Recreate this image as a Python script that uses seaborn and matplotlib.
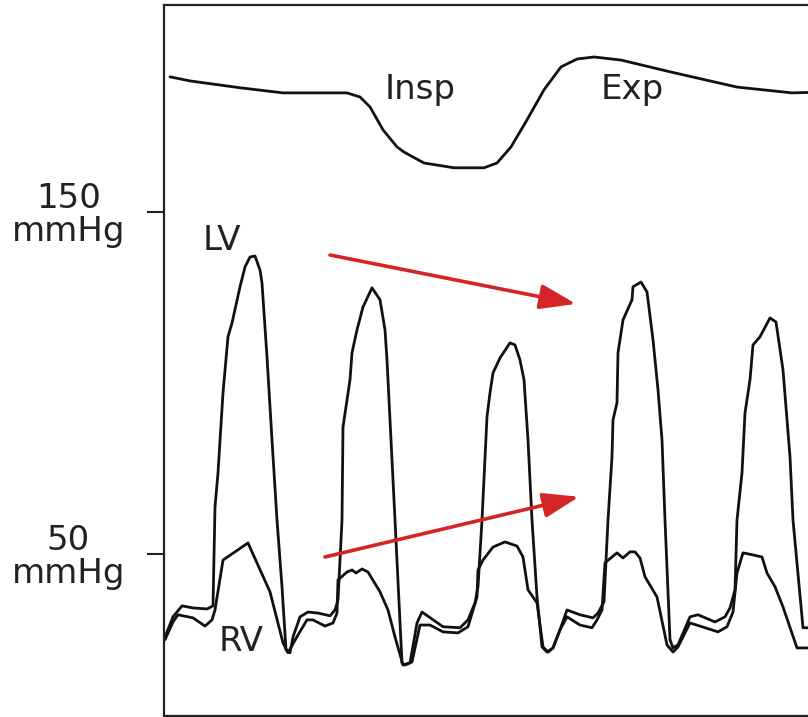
import pandas as pd
import seaborn as sns
import matplotlib.pyplot as plt

# ======| Values (time in ms, pressure in mmHg) |======

lv_t = [5, 45, 90, 145, 215, 245, 255, 270, 295, 320, 340, 380, 405, 430, 455, 480, 490,
        515, 540, 565, 590, 610, 630, 645, 680, 720, 770, 830, 855, 870, 890, 895, 930,
        940, 965, 995, 1040, 1080, 1105, 1115, 1140, 1155, 1190, 1205, 1230, 1265, 1290,
        1395, 1480, 1520, 1555, 1570, 1590, 1615, 1630, 1645, 1680, 1730, 1755, 1780,
        1800, 1820, 1840, 1865, 1890, 1915, 1945, 1980, 2015, 2080, 2145, 2170, 2200,
        2220, 2240, 2245, 2265, 2270, 2295, 2340, 2345, 2385, 2415, 2445, 2470, 2490,
        2505, 2530, 2545, 2570, 2630, 2670, 2755, 2805, 2830, 2855, 2865, 2890, 2905,
        2930, 2945, 2980, 3030, 3060, 3095, 3130, 3145, 3195, 3330]
lv_p = [25.7, 31.6, 34.8, 34.2, 33.9, 34.8, 63.7, 73.7, 97.1, 113.5, 117.5, 128.1, 133.9,
        136.8, 137.1, 133.0, 129.2, 107.6, 83.3, 59.9, 40.4, 21.9, 21.1, 25.7, 31.6, 33.0,
        32.7, 31.9, 33.6, 36.5, 59.9, 87.1, 100.9, 108.8, 115.5, 122.2, 127.8, 124.3,
        115.5, 106.7, 77.5, 59.9, 18.1, 17.5, 18.1, 29.8, 33.0, 28.7, 28.4, 30.7, 35.7,
        40.4, 59.9, 90.1, 97.1, 102.9, 107.3, 111.7, 111.1, 106.7, 100.9, 83.3, 59.9,
        37.4, 22.8, 21.3, 22.5, 27.8, 33.6, 32.2, 31.3, 32.7, 36.0, 59.9, 78.4, 89.2,
        94.2, 108.8, 118.4, 124.3, 128.1, 129.5, 126.6, 112.6, 98.0, 83.3, 59.9, 24.9,
        22.5, 23.4, 31.6, 32.2, 30.1, 31.6, 34.2, 39.5, 59.9, 73.7, 91.2, 100.9, 111.1,
        113.5, 119.0, 117.8, 103.8, 78.4, 59.9, 28.4, 28.4]

rv_t = [5, 45, 70, 145, 205, 240, 255, 295, 420, 530, 595, 620, 670, 715, 745, 805, 845,
        865, 870, 915, 940, 960, 990, 1020, 1080, 1120, 1155, 1195, 1240, 1280, 1330,
        1395, 1470, 1520, 1565, 1570, 1595, 1645, 1705, 1765, 1795, 1820, 1865, 1895,
        1920, 1945, 1980, 2015, 2080, 2140, 2165, 2190, 2205, 2265, 2295, 2330, 2355,
        2380, 2405, 2465, 2515, 2545, 2570, 2630, 2690, 2770, 2815, 2845, 2865, 2895,
        2945, 2990, 3015, 3055, 3095, 3165, 3330]
rv_p = [24.9, 30.1, 32.2, 31.3, 28.9, 30.7, 33.6, 48.2, 53.2, 38.9, 24.0, 21.1, 26.3,
        30.7, 30.7, 28.9, 29.8, 32.7, 42.4, 44.7, 45.3, 44.4, 45.6, 44.7, 38.9, 33.6,
        25.7, 17.5, 18.4, 29.2, 29.2, 27.2, 26.9, 28.7, 37.4, 45.3, 48.2, 52.0, 53.5,
        52.3, 49.1, 39.5, 35.7, 22.8, 21.3, 22.5, 27.8, 31.6, 29.2, 28.4, 30.7, 33.6,
        47.4, 50.3, 48.8, 50.6, 50.6, 48.8, 43.3, 37.4, 23.4, 21.3, 22.8, 29.8, 28.7,
        27.2, 28.7, 33.0, 44.4, 50.3, 49.7, 49.1, 44.4, 40.4, 34.5, 22.5, 22.5]

# respiration trace, drawn on the same vertical scale above the pressures
resp_t = [30, 130, 380, 595, 915, 980, 1030, 1095, 1165, 1200, 1300, 1450, 1600, 1665,
          1735, 1815, 1900, 1985, 2065, 2150, 2285, 2535, 2865, 3140, 3330]
resp_p = [189.5, 188.3, 186.3, 184.8, 184.8, 183.6, 180.7, 174.0, 169.0, 167.5, 164.3,
          162.9, 162.9, 164.3, 169.0, 176.9, 185.7, 192.4, 194.7, 195.3, 194.4, 190.9,
          186.5, 184.8, 185.1]

tick_values = [50, 150]
tick_labels = ["50\nmmHg", "150\nmmHg"]

traces = pd.concat([
    pd.DataFrame({"t": lv_t, "p": lv_p, "trace": "LV"}),
    pd.DataFrame({"t": rv_t, "p": rv_p, "trace": "RV"}),
    pd.DataFrame({"t": resp_t, "p": resp_p, "trace": "Resp"}),
])

# ======| Figure |======

sns.set_theme(style="white")
plt.rcParams["font.family"] = ["DejaVu Sans"]

fig = plt.figure(figsize=(8.08, 7.17), dpi=100)
ax = fig.add_axes([164 / 808, 1 / 717, 666 / 808, 711 / 717])

sns.lineplot(data=traces, x="t", y="p", units="trace", estimator=None, sort=False,
             color="#111111", linewidth=2.0, ax=ax)

ax.set_xlim(0, 3330)
ax.set_ylim(2.6, 210.5)
ax.set_xticks([])
ax.set_yticks(tick_values)
ax.set_yticklabels(tick_labels)
ax.set_xlabel("")
ax.set_ylabel("")
ax.tick_params(axis="y", left=True, direction="out", length=12, width=1.5,
               pad=16, labelsize=24.5, colors="#222222", labelcolor="#222222")
for lab in ax.get_yticklabels():
    lab.set_multialignment("center")
    lab.set_linespacing(1.0)

ax.spines["right"].set_visible(False)
for side in ["left", "top", "bottom"]:
    ax.spines[side].set_color("#222222")
    ax.spines[side].set_linewidth(1.6)

# labels on the tracing
ax.text(1280, 185.7, "Insp", ha="center", va="center", fontsize=24.5, color="#222222")
ax.text(2340, 185.7, "Exp", ha="center", va="center", fontsize=24.5, color="#222222")
ax.text(290, 141.5, "LV", ha="center", va="center", fontsize=24.5, color="#222222")
ax.text(385, 24.4, "RV", ha="center", va="center", fontsize=24.5, color="#222222")

# red arrows: LV falls, RV rises
red = "#d42426"
for start, end in [((830, 137.4), (2060, 123.1)), ((805, 49.1), (2075, 66.7))]:
    ax.annotate("", xy=end, xytext=start,
                arrowprops=dict(arrowstyle="-|>,head_length=1.1,head_width=0.38",
                                mutation_scale=20, color=red, lw=2.6,
                                shrinkA=0, shrinkB=0))

fig.savefig("out.png", dpi=100)
